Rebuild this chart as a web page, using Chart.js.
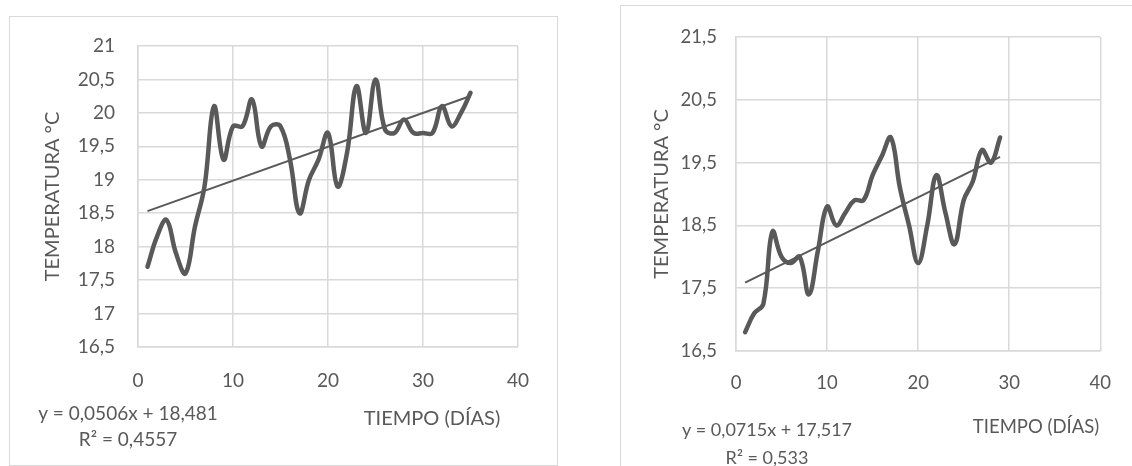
<!DOCTYPE html>
<html lang="es">
<head>
<meta charset="utf-8">
<title>Temperatura vs tiempo</title>
<script src="https://cdn.jsdelivr.net/npm/chart.js@4/dist/chart.umd.min.js"></script>
<style>
  html, body { margin: 0; padding: 0; background: #fff; overflow: hidden; }
  body { width: 1132px; height: 466px; position: relative; }
  .marco { position: absolute; border: 1.5px solid #d9d9d9; box-sizing: border-box; }
  canvas { position: absolute; top: 0; }
</style>
</head>
<body>
<div class="marco" style="left:9px; top:16px; width:549px; height:450px;"></div>
<div class="marco" style="left:620px; top:5px; width:560px; height:520px;"></div>
<canvas id="graficoA" width="566" height="466" style="left:0"></canvas>
<canvas id="graficoB" width="566" height="466" style="left:566px"></canvas>
<script>
// datos (dia, temperatura en °C)
const diasA = [1, 2, 3, 4, 5, 6, 7, 8, 9, 10, 11, 12, 13, 14, 15, 16, 17, 18, 19, 20,
               21, 22, 23, 24, 25, 26, 27, 28, 29, 30, 31, 32, 33, 34, 35];
const tempA = [17.7, 18.15, 18.4, 17.9, 17.6, 18.3, 18.9, 20.1, 19.3, 19.8,
               19.8, 20.2, 19.5, 19.8, 19.8, 19.3, 18.5, 19.0, 19.3, 19.7,
               18.9, 19.4, 20.4, 19.7, 20.5, 19.75, 19.7, 19.9, 19.7, 19.7,
               19.7, 20.1, 19.8, 20.0, 20.3];

const diasB = [1, 2, 3, 4, 5, 6, 7, 8, 9, 10, 11, 12, 13, 14, 15, 16, 17, 18, 19, 20,
               21, 22, 23, 24, 25, 26, 27, 28, 29];
const tempB = [16.8, 17.1, 17.25, 18.4, 18.0, 17.9, 18.0, 17.4, 18.1, 18.8,
               18.5, 18.7, 18.9, 18.9, 19.3, 19.6, 19.9, 19.1, 18.5, 17.9,
               18.5, 19.3, 18.7, 18.2, 18.9, 19.2, 19.7, 19.5, 19.9];

// lineas de tendencia (y = m x + b)
const pendienteA = 0.0506, origenA = 18.481, r2A = 0.4557;
const pendienteB = 0.0715, origenB = 17.517, r2B = 0.533;

// marcas de los ejes
const ticksX = [0, 10, 20, 30, 40];
const ticksYA = [16.5, 17, 17.5, 18, 18.5, 19, 19.5, 20, 20.5, 21];
const ticksYB = [16.5, 17.5, 18.5, 19.5, 20.5, 21.5];

const GRIS = '#595959';
const REJILLA = '#d9d9d9';
const FUENTE = 'Lato, "Open Sans", sans-serif';

function coma(v) {
    return String(v).replace('.', ',');
}

function crearGrafico(id, dias, temps, pendiente, origen, r2, ticksY, cfg) {
    const puntos = dias.map((d, i) => ({ x: d, y: temps[i] }));
    const x0 = dias[0];
    const x1 = dias[dias.length - 1];
    const tendencia = [
        { x: x0, y: pendiente * x0 + origen },
        { x: x1, y: pendiente * x1 + origen },
    ];

    const textos = [
        { t: 'TIEMPO (DÍAS)', pos: cfg.tituloX, size: cfg.fuenteTituloX },
        { t: `y = ${coma(pendiente)}x + ${coma(origen)}`, pos: cfg.ecuacion, size: cfg.fuenteEc },
        { t: `R² = ${coma(r2)}`, pos: cfg.r2, size: cfg.fuenteEc },
    ];

    const etiquetas = {
        id: 'etiquetas',
        afterDraw(chart) {
            const ctx = chart.ctx;
            ctx.save();
            ctx.fillStyle = GRIS;
            ctx.textAlign = 'center';
            ctx.textBaseline = 'middle';
            textos.forEach((e) => {
                ctx.font = `${e.size}px ${FUENTE}`;
                ctx.fillText(e.t, e.pos[0], e.pos[1]);
            });
            ctx.restore();
        },
    };

    return new Chart(document.getElementById(id), {
        type: 'scatter',
        data: {
            datasets: [
                {
                    data: puntos,
                    showLine: true,
                    borderColor: GRIS,
                    borderWidth: 4.5,
                    tension: 0.4,
                    pointRadius: 0,
                    borderCapStyle: 'round',
                    borderJoinStyle: 'round',
                },
                {
                    data: tendencia,
                    showLine: true,
                    borderColor: GRIS,
                    borderWidth: 2,
                    pointRadius: 0,
                },
            ],
        },
        options: {
            responsive: false,
            animation: false,
            devicePixelRatio: 1,
            layout: { padding: cfg.padding },
            plugins: {
                legend: { display: false },
                tooltip: { enabled: false },
            },
            scales: {
                x: {
                    type: 'linear',
                    min: ticksX[0],
                    max: ticksX[ticksX.length - 1],
                    afterBuildTicks: (s) => { s.ticks = ticksX.map((v) => ({ value: v })); },
                    afterFit: (s) => { s.height = cfg.altoX; },
                    grid: { color: REJILLA, lineWidth: 1.5, drawTicks: false },
                    border: { color: REJILLA, width: 1.5 },
                    ticks: {
                        color: GRIS,
                        padding: cfg.padX,
                        font: { family: FUENTE, size: cfg.fuenteTick },
                    },
                },
                y: {
                    type: 'linear',
                    min: ticksY[0],
                    max: ticksY[ticksY.length - 1],
                    afterBuildTicks: (s) => { s.ticks = ticksY.map((v) => ({ value: v })); },
                    afterFit: (s) => { s.width = cfg.anchoY; },
                    grid: { color: REJILLA, lineWidth: 1.5, drawTicks: false },
                    border: { color: REJILLA, width: 1.5 },
                    ticks: {
                        color: GRIS,
                        padding: cfg.padY,
                        callback: (v) => coma(v),
                        font: { family: FUENTE, size: cfg.fuenteTick },
                    },
                    title: {
                        display: true,
                        text: 'TEMPERATURA °C',
                        color: GRIS,
                        font: { family: FUENTE, size: cfg.fuenteTituloY },
                        padding: { top: cfg.tituloY, bottom: 0 },
                    },
                },
            },
        },
        plugins: [etiquetas],
    });
}

crearGrafico('graficoA', diasA, tempA, pendienteA, origenA, r2A, ticksYA, {
    padding: { top: 46, right: 48, bottom: 39, left: 0 },
    anchoY: 138,
    altoX: 80,
    padX: 22,
    padY: 23,
    fuenteTick: 19,
    fuenteTituloY: 20,
    tituloY: 41,
    tituloX: [432, 419],
    fuenteTituloX: 20,
    ecuacion: [128, 414],
    r2: [128, 440],
    fuenteEc: 19,
});

crearGrafico('graficoB', diasB, tempB, pendienteB, origenB, r2B, ticksYB, {
    padding: { top: 37, right: 22, bottom: 35, left: 0 },
    anchoY: 170,
    altoX: 80,
    padX: 21,
    padY: 19,
    fuenteTick: 18.5,
    fuenteTituloY: 20,
    tituloY: 84,
    tituloX: [470, 427],
    fuenteTituloX: 18.5,
    ecuacion: [201, 430],
    r2: [201, 458],
    fuenteEc: 18,
});
</script>
</body>
</html>
